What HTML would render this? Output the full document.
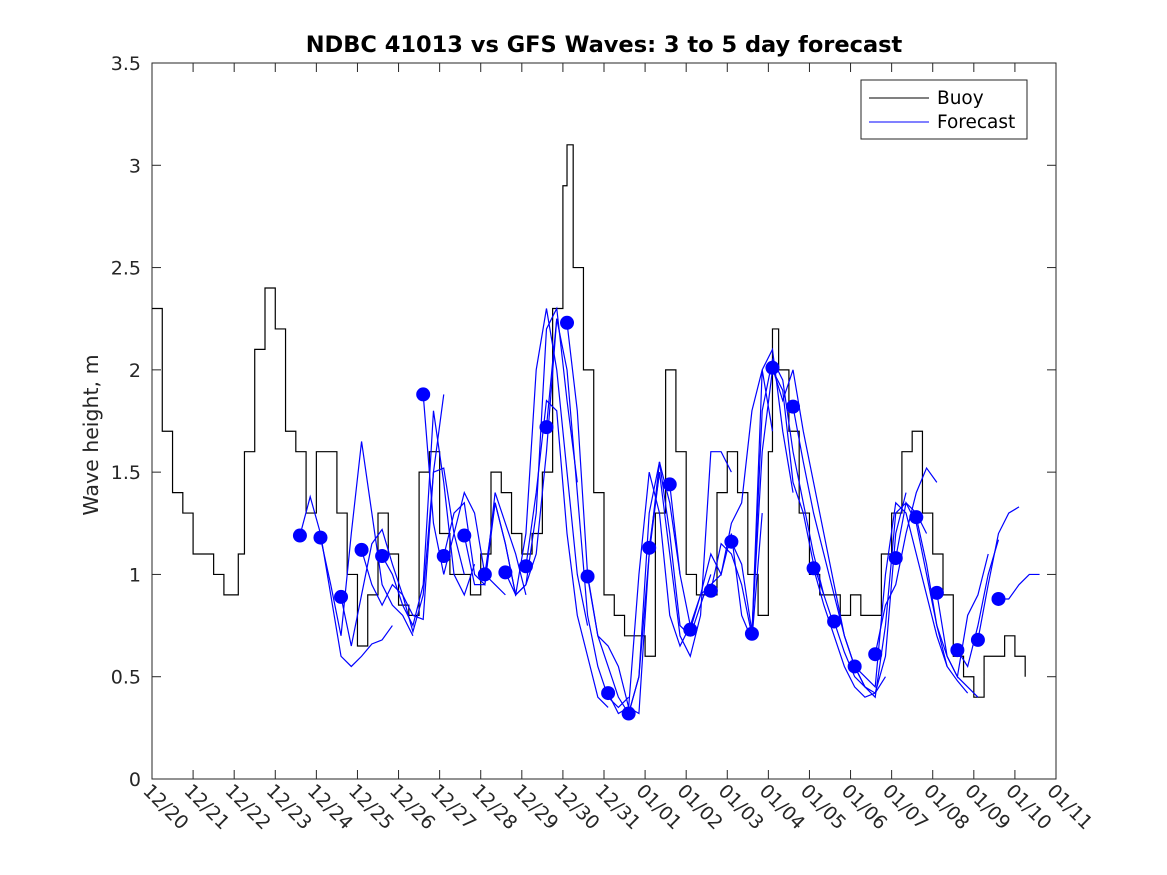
<!DOCTYPE html>
<html><head><meta charset="utf-8"><style>
body{margin:0;background:#fff}
svg{display:block;font-family:"DejaVu Sans","Liberation Sans",sans-serif}
</style></head><body>
<svg id="c" width="1167" height="875">
<rect width="1167" height="875" fill="#fff"/>
</svg>
<script>
const buoyDays=[0,0.25,0.5,0.75,1,1.25,1.5,1.75,2,2.1,2.25,2.5,2.75,3,3.25,3.5,3.75,4,4.25,4.5,4.75,5,5.25,5.5,5.75,6,6.25,6.5,6.75,7,7.25,7.5,7.75,8,8.25,8.5,8.75,9,9.25,9.5,9.75,10,10.1,10.25,10.5,10.75,11,11.25,11.5,11.75,12,12.25,12.5,12.75,13,13.25,13.5,13.75,14,14.25,14.5,14.75,15,15.1,15.25,15.5,15.75,16,16.25,16.5,16.75,17,17.25,17.5,17.75,18,18.25,18.5,18.75,19,19.25,19.5,19.75,20,20.25,20.5,20.75,21,21.25];
const buoyValues=[2.3,1.7,1.4,1.3,1.1,1.1,1.0,0.9,0.9,1.1,1.6,2.1,2.4,2.2,1.7,1.6,1.3,1.6,1.6,1.3,1.0,0.65,0.9,1.3,1.1,0.85,0.8,1.5,1.6,1.2,1.0,1.0,0.9,1.1,1.5,1.4,1.2,1.1,1.2,1.5,2.3,2.9,3.1,2.5,2.0,1.4,0.9,0.8,0.7,0.7,0.6,1.3,2.0,1.6,1.0,0.9,0.9,1.4,1.6,1.4,1.0,0.8,1.6,2.2,2.0,1.7,1.3,1.0,0.9,0.9,0.8,0.9,0.8,0.8,1.1,1.3,1.6,1.7,1.3,1.1,0.9,0.6,0.5,0.4,0.6,0.6,0.7,0.6,0.5];
const runStarts=[3.6,4.1,4.6,5.1,5.6,6.6,7.1,7.6,8.1,8.6,9.1,9.6,10.1,10.6,11.1,11.6,12.1,12.6,13.1,13.6,14.1,14.6,15.1,15.6,16.1,16.6,17.1,17.6,18.1,18.6,19.1,19.6,20.1,20.6];
const runValues=[
[1.19,1.38,1.2,0.9,0.6,0.55,0.6,0.66,0.68,0.75],
[1.18,0.95,0.7,1.2,1.65,1.3,0.95,0.85,0.8,0.7],
[0.89,0.65,0.9,1.15,1.22,1.05,0.9,0.8,0.78,1.5,1.88],
[1.12,0.95,0.85,0.95,0.9,0.72,0.9,1.5,1.52,1.2,1.0],
[1.09,1.0,0.85,0.75,0.95,1.8,1.45,1.0,0.9,1.05],
[1.88,1.25,1.0,1.2,1.4,1.3,1.0,0.95,0.9],
[1.09,1.3,1.35,1.0,0.95,1.4,1.25,1.1,0.9],
[1.19,0.95,0.95,1.35,1.15,0.9,0.95,1.1,1.6,2.25],
[1.0,1.35,1.15,0.9,0.95,1.3,2.2,2.3,1.85,1.45],
[1.01,0.9,1.2,2.0,2.3,2.0,1.5,1.0,0.75],
[1.04,1.4,1.85,1.8,1.2,0.8,0.6,0.4,0.35],
[1.72,2.25,2.0,1.4,0.8,0.55,0.4,0.35,0.4],
[2.23,1.8,1.0,0.7,0.55,0.4,0.32,0.5,1.1,1.5],
[0.99,0.7,0.65,0.55,0.35,0.32,1.1,1.55,1.35,1.0],
[0.42,0.32,0.35,1.0,1.5,1.3,0.8,0.65,0.75],
[0.32,0.5,1.3,1.55,1.2,0.75,0.7,0.85,1.0],
[1.13,1.5,1.1,0.7,0.6,0.8,1.6,1.6,1.5],
[1.44,1.0,0.75,0.9,1.1,1.0,1.2,0.8,0.68,1.3],
[0.73,0.9,0.95,1.0,1.25,1.35,1.8,2.0,1.7],
[0.92,1.15,1.1,0.95,0.7,2.0,2.1,1.7,1.4],
[1.16,1.05,0.72,1.6,2.0,1.9,1.45,1.3,1.05,0.9],
[0.71,1.8,2.05,1.95,1.6,1.35,1.1,0.9,0.75],
[2.01,1.85,2.0,1.7,1.45,1.2,0.95,0.7,0.55,0.45],
[1.82,1.55,1.3,1.1,0.9,0.7,0.55,0.45,0.42,0.5],
[1.03,0.85,0.7,0.55,0.45,0.4,0.42,0.6,1.2,1.4],
[0.77,0.62,0.5,0.45,0.4,0.75,1.3,1.35,1.3,1.2],
[0.55,0.5,0.45,1.0,1.35,1.3,1.1,0.9,0.7,0.55],
[0.61,0.85,0.95,1.2,1.4,1.52,1.45],
[1.08,1.35,1.25,1.0,0.75,0.55,0.48,0.42],
[1.28,1.05,0.75,0.6,0.5,0.45,0.4],
[0.91,0.6,0.5,0.8,0.9,1.1],
[0.63,0.55,0.75,1.0,1.17],
[0.68,0.95,1.2,1.3,1.33],
[0.88,0.88,0.95,1.0,1.0]];
const xTickLabels=["12/20","12/21","12/22","12/23","12/24","12/25","12/26","12/27","12/28","12/29","12/30","12/31","01/01","01/02","01/03","01/04","01/05","01/06","01/07","01/08","01/09","01/10","01/11"];
const yTicks=[0,0.5,1,1.5,2,2.5,3,3.5];

const NS="http://www.w3.org/2000/svg";
const svg=document.getElementById('c');
const L=152,R=1056,T=63,B=779;
const xs=d=>L+(R-L)*d/22;
const ys=v=>B-(B-T)*v/3.5;
function mk(tag,attrs,parent){const e=document.createElementNS(NS,tag);for(const k in attrs)e.setAttribute(k,attrs[k]);(parent||svg).appendChild(e);return e;}

const box=mk('rect',{x:L,y:T,width:R-L,height:B-T,fill:'none',stroke:'#262626','stroke-width':1});



const yg=mk('g',{});


yTicks.forEach(v=>{
  const y=ys(v);
  mk('line',{x1:L,x2:L+9,y1:y,y2:y,stroke:'#262626'},yg);
  mk('line',{x1:R,x2:R-9,y1:y,y2:y,stroke:'#262626'},yg);
  const t=mk('text',{x:L-11,y:y+7,'text-anchor':'end','font-size':19,fill:'#262626'},yg);
  t.textContent=String(v);
  
  
});
const xg=mk('g',{});


xTickLabels.forEach((lab,i)=>{
  const x=xs(i);
  mk('line',{x1:x,x2:x,y1:B,y2:B-9,stroke:'#262626'},xg);
  mk('line',{x1:x,x2:x,y1:T,y2:T+9,stroke:'#262626'},xg);
  const t=mk('text',{x:x-10,y:B+13,'font-size':19,fill:'#262626',transform:`rotate(45 ${x-10} ${B+13})`},xg);
  t.textContent=lab;
  
  
});

let d='';
buoyDays.forEach((dd,i)=>{
  const x=xs(dd),y=ys(buoyValues[i]);
  if(i===0)d+=`M${x},${y}`;else d+=`H${x}V${y}`;
});
const bl=mk('path',{d:d,fill:'none',stroke:'#000','stroke-width':1.2});



const fg=mk('g',{});


runStarts.forEach((s,i)=>{
  const pts=runValues[i].map((v,j)=>`${xs(s+j*0.25)},${ys(v)}`).join(' ');
  const p=mk('polyline',{points:pts,fill:'none',stroke:'#0000ff','stroke-width':1.2},fg);
  
  
});
runStarts.forEach((s,i)=>{
  const c=mk('circle',{cx:xs(s),cy:ys(runValues[i][0]),r:7,fill:'#0000ff'},fg);
  
  
});

const ti=mk('text',{x:604,y:52,'text-anchor':'middle','font-size':22.5,'font-weight':'bold',fill:'#000'});
ti.textContent='NDBC 41013 vs GFS Waves: 3 to 5 day forecast';


const yl=mk('text',{x:98,y:435,'text-anchor':'middle','font-size':20.5,fill:'#262626',transform:'rotate(-90 98 435)'});
yl.textContent='Wave height, m';



const lg=mk('g',{});


mk('rect',{x:861,y:80,width:166,height:59,fill:'#fff',stroke:'#262626'},lg);
mk('line',{x1:869,x2:929,y1:98,y2:98,stroke:'#000'},lg);
mk('line',{x1:869,x2:929,y1:122,y2:122,stroke:'#0000ff'},lg);
const t1=mk('text',{x:937,y:104,'font-size':18.5,fill:'#000'},lg);
t1.textContent='Buoy';


const t2=mk('text',{x:937,y:128,'font-size':18.5,fill:'#000'},lg);
t2.textContent='Forecast';


</script>
</body></html>
